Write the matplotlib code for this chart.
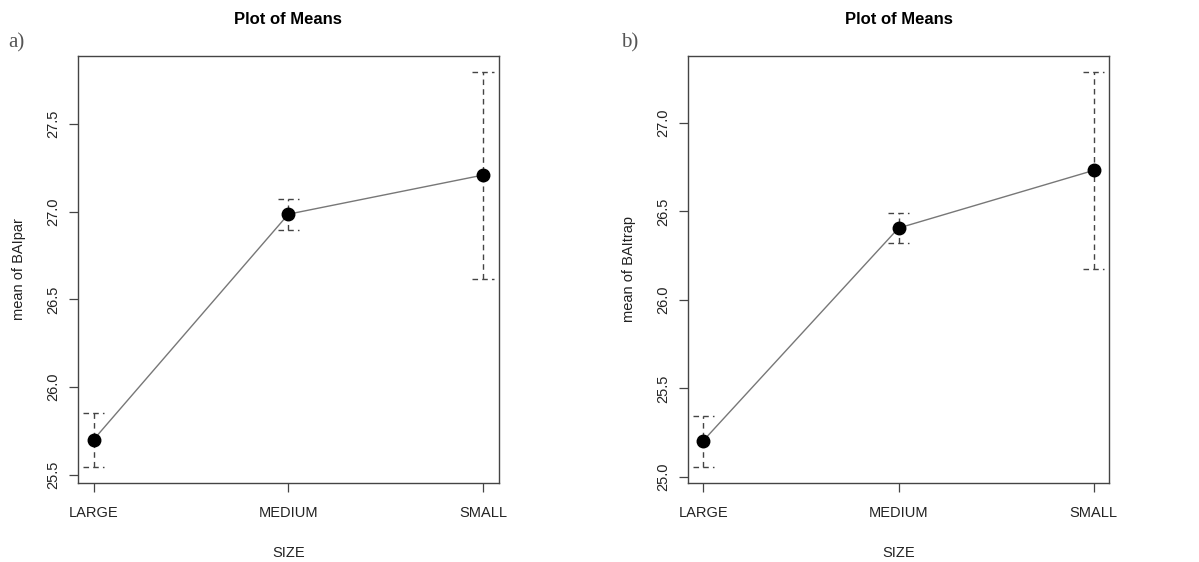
import numpy as np
import matplotlib.pyplot as plt

plt.rcParams['font.family'] = ['Liberation Sans', 'DejaVu Sans']

sizes = ["LARGE", "MEDIUM", "SMALL"]

# panel a: mean of BAIpar
means_a = [25.70, 26.985, 27.208]
upper_a = [25.85, 27.072, 27.795]
lower_a = [25.545, 26.896, 26.615]

# panel b: mean of BAItrap
means_b = [25.205, 26.406, 26.732]
upper_b = [25.346, 26.491, 27.288]
lower_b = [25.056, 26.322, 26.175]

yticks_a = [25.5, 26.0, 26.5, 27.0, 27.5]
yticks_b = [25.0, 25.5, 26.0, 26.5, 27.0]

fig = plt.figure(figsize=(11.99, 5.62), dpi=100)

def draw_panel(rect, means, lower, upper, yticks, ylabel, tag, tag_x):
    ax = fig.add_axes(rect)
    x = np.arange(len(sizes))
    ax.plot(x, means, color="#777777", lw=1.0, zorder=2)
    # dashed error bars with dashed caps, like R's plotMeans
    ax.vlines(x, lower, upper, colors="#444444", linestyles=(0, (4, 3)), lw=1.0, zorder=1)
    cw = 0.055
    ax.hlines(upper, x - cw, x + cw, colors="#444444", linestyles=(0, (4, 3)), lw=1.0)
    ax.hlines(lower, x - cw, x + cw, colors="#444444", linestyles=(0, (4, 3)), lw=1.0)
    ax.plot(x, means, "o", color="black", ms=9, zorder=3)

    lo, hi = min(lower), max(upper)
    pad = 0.04 * (hi - lo)
    ax.set_ylim(lo - pad, hi + pad)
    ax.set_xlim(-0.08, 2.08)
    ax.set_xticks(x)
    ax.set_xticklabels(sizes, fontsize=10.5, color="#222222")
    ax.set_yticks(yticks)
    ax.set_yticklabels([f"{v:.1f}" for v in yticks], rotation=90, va="center",
                       fontsize=10.5, color="#222222")
    ax.tick_params(axis="x", length=6.5, width=0.9, color="#444444", pad=10)
    ax.tick_params(axis="y", length=6.5, width=0.9, color="#444444", pad=6)
    for s in ax.spines.values():
        s.set_color("#444444")
        s.set_linewidth(1.0)
    ax.set_xlabel("SIZE", fontsize=10.5, color="#222222", labelpad=19)
    ax.set_ylabel(ylabel, fontsize=10.5, color="#222222", labelpad=15)
    ax.set_title("Plot of Means", fontsize=12, fontweight="bold", pad=23)
    fig.text(tag_x, 0.923, tag, fontsize=15, family=["Liberation Serif", "DejaVu Serif"],
             color="#555555", ha="left", va="center")
    return ax

draw_panel([0.065, 0.141, 0.351, 0.759], means_a, lower_a, upper_a, yticks_a,
           "mean of BAIpar", "a)", 0.007)
draw_panel([0.5736, 0.141, 0.3516, 0.759], means_b, lower_b, upper_b, yticks_b,
           "mean of BAItrap", "b)", 0.518)

fig.savefig("out.png", dpi=100)
